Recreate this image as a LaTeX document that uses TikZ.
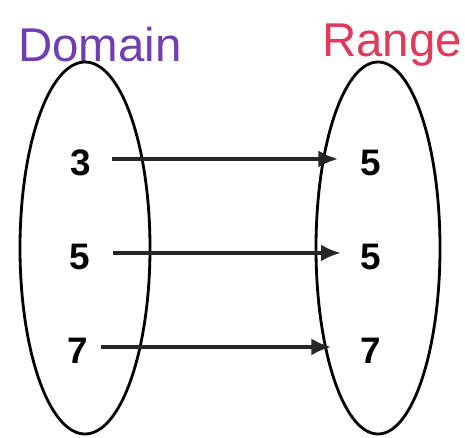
\documentclass[tikz,border=0pt]{standalone}
\usepackage{fontspec}
\setmainfont{Liberation Sans}
\usetikzlibrary{arrows.meta}
\definecolor{dompurple}{RGB}{112,62,178}
\definecolor{rngred}{RGB}{222,58,92}

\begin{document}
\begin{tikzpicture}[x=0.02cm, y=-0.02cm,
  num/.style={font=\fontsize{21}{24}\selectfont\bfseries, inner sep=2pt},
  title/.style={font=\fontsize{27}{30}\selectfont, inner sep=0pt},
  oval/.style={draw, line width=1.6pt},
  arr/.style={-{Latex[length=4mm, width=3.4mm]}, line width=2.5pt, black!85}
]
\useasboundingbox (0,0) rectangle (465,438);
% ---- titles ----
\node[title, text=dompurple] (dom) at (100,45) {Domain};
\node[title, text=rngred] (rng) at (392,45) {Range};
% ---- the two sets ----
\draw[oval] (85,248) ellipse [x radius=65, y radius=186];
\draw[oval] (378,248) ellipse [x radius=62, y radius=186];
% ---- values ----
\foreach \i/\a/\b/\y/\x in {1/3/5/163/81,2/5/5/257/80,3/7/7/351/78}{
  \node[num] (d\i) at (\x,\y) {\a};
  \node[num] (r\i) at (371,\y) {\b};
}
% ---- mapping arrows ----
\draw[arr, shorten <=9.5pt, shorten >=10.5pt] ([yshift=2.3pt]d1.east) -- ([yshift=2.3pt]r1.west);
\draw[arr, shorten <=11pt, shorten >=9pt] ([yshift=2.3pt]d2.east) -- ([yshift=2.3pt]r2.west);
\draw[arr, shorten <=5pt, shorten >=14.5pt] ([yshift=2.3pt]d3.east) -- ([yshift=2.3pt]r3.west);
\end{tikzpicture}
\end{document}
